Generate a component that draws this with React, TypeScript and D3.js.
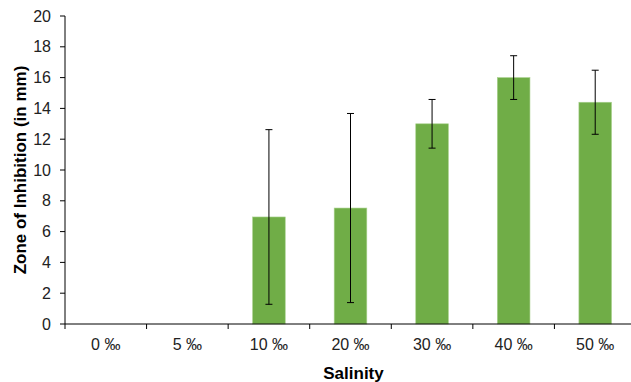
import React from "react";
import * as d3 from "d3";

const categories = ["0 ‰", "5 ‰", "10 ‰", "20 ‰", "30 ‰", "40 ‰", "50 ‰"];
const means = [0, 0, 6.95, 7.53, 13.0, 16.0, 14.4];
const errors = [0, 0, 5.67, 6.14, 1.58, 1.42, 2.08];
const yTicks = [0, 2, 4, 6, 8, 10, 12, 14, 16, 18, 20];

export default function App() {
  const W = 631, H = 382;
  const left = 65, right = 636, top = 16, bottom = 324;
  const x = d3.scaleBand<string>().domain(categories).range([left, right]).paddingInner(0).paddingOuter(0);
  const y = d3.scaleLinear().domain([0, 20]).range([bottom, top]);
  const bw = x.bandwidth() * 0.4;
  const font = "'Liberation Sans', Arial, sans-serif";
  const boundaries = d3.range(categories.length + 1).map(i => left + i * x.step());
  return (
    <svg width={W} height={H} style={{ position: "absolute", left: 0, top: 0, background: "#fff" }} fontFamily={font}>
      {categories.map((c, i) => {
        const cx = (x(c) as number) + x.bandwidth() / 2;
        if (means[i] <= 0) return null;
        return (
          <g key={c}>
            <rect x={cx - bw / 2} y={y(means[i])} width={bw} height={y(0) - y(means[i])} fill="#70AD47" stroke="#A9D18E" strokeWidth={0.6} />
          </g>
        );
      })}
      {categories.map((c, i) => {
        const cx = (x(c) as number) + x.bandwidth() / 2;
        if (means[i] <= 0) return null;
        const hi = y(means[i] + errors[i]);
        const lo = y(means[i] - errors[i]);
        return (
          <g key={"e" + c} stroke="#000" strokeWidth={1}>
            <line x1={cx} x2={cx} y1={hi} y2={lo} />
            <line x1={cx - 3.5} x2={cx + 3.5} y1={hi} y2={hi} />
            <line x1={cx - 3.5} x2={cx + 3.5} y1={lo} y2={lo} />
          </g>
        );
      })}
      <line x1={left} x2={left} y1={top} y2={bottom} stroke="#000" strokeWidth={1} />
      <line x1={left} x2={right} y1={bottom} y2={bottom} stroke="#000" strokeWidth={1} />
      {yTicks.map(t => (
        <g key={t}>
          <line x1={left - 5} x2={left} y1={y(t)} y2={y(t)} stroke="#000" />
          <text x={51} y={y(t)} dy="0.35em" textAnchor="end" fontSize={16} fill="#222">{t}</text>
        </g>
      ))}
      {boundaries.map((b, i) => (
        <line key={i} x1={b} x2={b} y1={bottom} y2={bottom + 5} stroke="#000" />
      ))}
      {categories.map(c => (
        <text key={"l" + c} x={(x(c) as number) + x.bandwidth() / 2} y={350} textAnchor="middle" fontSize={16} fill="#222">{c}</text>
      ))}
      <text x={353.5} y={379} textAnchor="middle" fontSize={17} fontWeight="bold">Salinity</text>
      <text transform={`translate(25.5, ${(top + bottom) / 2}) rotate(-90)`} textAnchor="middle" fontSize={17} fontWeight="bold">Zone of Inhibition (in mm)</text>
    </svg>
  );
}
